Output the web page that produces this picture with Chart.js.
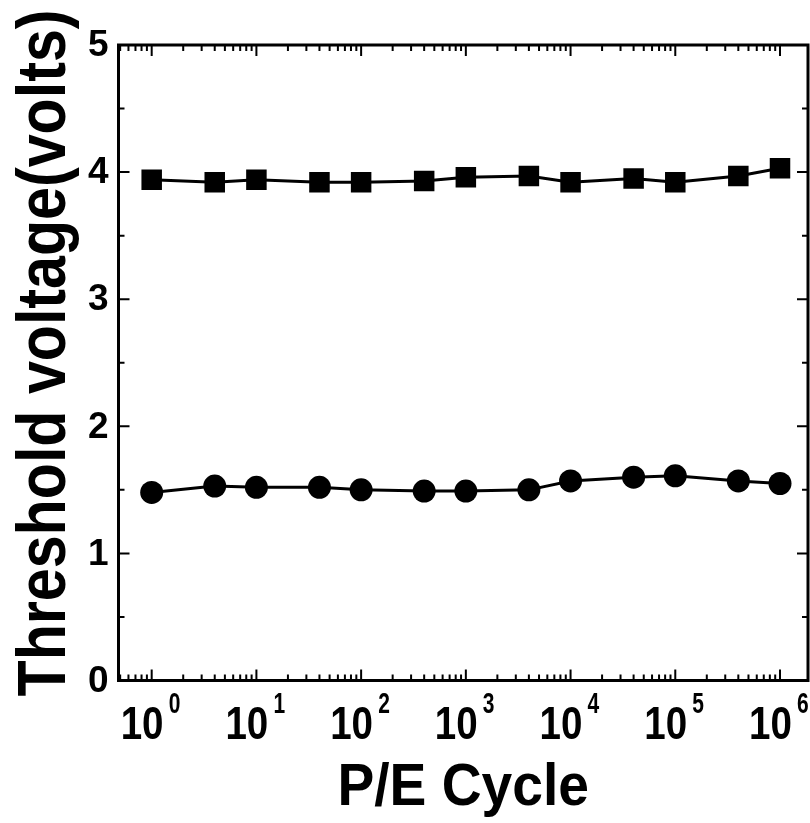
<!DOCTYPE html>
<html>
<head>
<meta charset="utf-8">
<script src="https://cdn.jsdelivr.net/npm/chart.js@4.4.1/dist/chart.umd.min.js"></script>
<style>
  html, body { margin: 0; padding: 0; background: #fff; }
  canvas { display: block; }
</style>
</head>
<body>
<canvas id="chart" width="810" height="823"></canvas>
<script>
// P/E cycle counts and threshold voltages (volts)
const cycles = [1, 4, 10, 40, 100, 400, 1e3, 4e3, 1e4, 4e4, 1e5, 4e5, 1e6]
const programmed = [3.94, 3.92, 3.94, 3.92, 3.92, 3.93, 3.96, 3.97, 3.92, 3.95, 3.92, 3.97, 4.03]
const erased = [1.48, 1.53, 1.52, 1.52, 1.50, 1.49, 1.49, 1.50, 1.57, 1.60, 1.61, 1.57, 1.55]

const decades = [0, 1, 2, 3, 4, 5, 6]
const voltTicks = [0, 1, 2, 3, 4, 5]
const xTitle = "P/E Cycle"
const yTitle = "Threshold voltage(volts)"

const FONT = '"Liberation Sans", Arial, Helvetica, sans-serif'

// box frame with inward ticks on all four sides, plus labels
const frame = {
    id: 'frame',
    afterDatasetsDraw(chart) {
        const ctx = chart.ctx
        const { left, right, top, bottom } = chart.chartArea
        const xs = chart.scales.x
        const ys = chart.scales.y
        ctx.save()
        ctx.strokeStyle = '#000'
        ctx.fillStyle = '#000'

        // ticks
        ctx.lineWidth = 2
        ctx.beginPath()
        for (let d = -1; d <= 6; d++) {
            for (let m = 1; m < 10; m++) {
                const v = m * Math.pow(10, d)
                if (v < xs.min || v > xs.max) continue
                const px = xs.getPixelForValue(v)
                const len = m === 1 ? 11 : 6
                ctx.moveTo(px, bottom); ctx.lineTo(px, bottom - len)
                ctx.moveTo(px, top); ctx.lineTo(px, top + len)
            }
        }
        for (let v = 0.5; v < 5; v += 0.5) {
            const py = ys.getPixelForValue(v)
            const len = Number.isInteger(v) ? 11 : 6
            ctx.moveTo(left, py); ctx.lineTo(left + len, py)
            ctx.moveTo(right, py); ctx.lineTo(right - len, py)
        }
        ctx.stroke()

        ctx.lineWidth = 3
        ctx.strokeRect(left, top, right - left, bottom - top)

        // y tick labels
        ctx.font = 'bold 37px ' + FONT
        ctx.textAlign = 'right'
        ctx.textBaseline = 'middle'
        voltTicks.forEach(v => {
            ctx.fillText(String(v), left - 10, ys.getPixelForValue(v) + 1)
        })

        // x tick labels: 10 with a raised exponent
        ctx.textAlign = 'left'
        ctx.textBaseline = 'alphabetic'
        decades.forEach(d => {
            const px = xs.getPixelForValue(Math.pow(10, d))
            ctx.save()
            ctx.translate(px - 31, 739)
            ctx.scale(0.82, 1)
            ctx.font = 'bold 47px ' + FONT
            ctx.fillText('10', 0, 0)
            ctx.restore()
            ctx.save()
            ctx.translate(px + 17, 713)
            ctx.scale(0.7, 1)
            ctx.font = 'bold 30px ' + FONT
            ctx.fillText(String(d), 0, 0)
            ctx.restore()
        })

        // axis titles
        ctx.save()
        ctx.translate((left + right) / 2, 805)
        ctx.scale(0.92, 1)
        ctx.font = 'bold 60px ' + FONT
        ctx.textAlign = 'center'
        ctx.fillText(xTitle, 0, 0)
        ctx.restore()

        ctx.save()
        ctx.translate(65, 353)
        ctx.rotate(-Math.PI / 2)
        ctx.scale(0.87, 1)
        ctx.font = 'bold 68px ' + FONT
        ctx.textAlign = 'center'
        ctx.fillText(yTitle, 0, 0)
        ctx.restore()

        ctx.restore()
    }
}

const container = document.getElementById('chart')

const config = {
    type: 'line',
    data: {
        datasets: [
            {
                label: 'Programmed',
                data: cycles.map((c, i) => ({ x: c, y: programmed[i] })),
                borderColor: '#000',
                backgroundColor: '#000',
                borderWidth: 3,
                pointStyle: 'rect',
                pointRadius: 14.5,
                pointHoverRadius: 14.5,
                pointBorderWidth: 0
            },
            {
                label: 'Erased',
                data: cycles.map((c, i) => ({ x: c, y: erased[i] })),
                borderColor: '#000',
                backgroundColor: '#000',
                borderWidth: 3,
                pointStyle: 'circle',
                pointRadius: 11.5,
                pointHoverRadius: 11.5,
                pointBorderWidth: 0
            }
        ]
    },
    options: {
        responsive: false,
        animation: false,
        events: [],
        layout: {
            autoPadding: false,
            padding: { left: 118.5, right: 2, top: 45, bottom: 142.5 }
        },
        scales: {
            x: { type: 'logarithmic', min: 0.482, max: 1.851e6, display: false },
            y: { type: 'linear', min: 0, max: 5, display: false }
        },
        plugins: {
            legend: { display: false },
            tooltip: { enabled: false }
        }
    },
    plugins: [frame]
}

const myChart = new Chart(container, config)
</script>
</body>
</html>
